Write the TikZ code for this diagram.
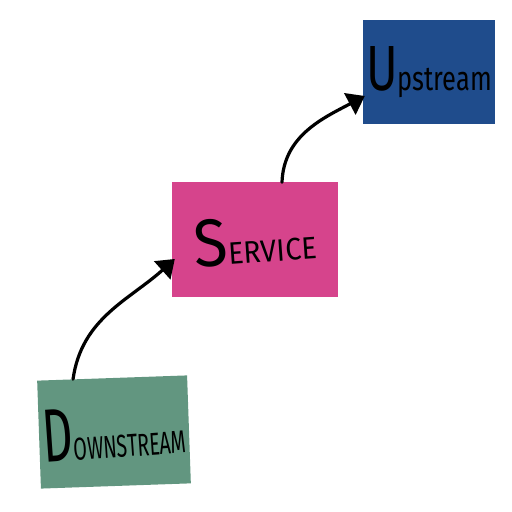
\documentclass[tikz,border=0pt]{standalone}
\usepackage{fontspec}
\usepackage{graphicx}
\setmainfont{Fira Sans}
\usetikzlibrary{arrows.meta,calc}
\definecolor{dgreen}{RGB}{98,150,128}
\definecolor{spink}{RGB}{214,68,140}
\definecolor{ublue}{RGB}{31,76,140}
\begin{document}
\begin{tikzpicture}[x=1pt,y=1pt,
  boxst/.style={draw=none, inner sep=0pt, align=center, text=black},
  conn/.style={line width=3.2pt, draw=black, -{Triangle[length=17pt,width=24pt]}, line cap=round}]
\useasboundingbox (0,0) rectangle (512,512);
\node[boxst, fill=dgreen, minimum width=150pt, minimum height=108pt, rotate=2] (down) at (114,80)
  {\rotatebox{2}{\resizebox{143pt}{52pt}{{\fontsize{74}{74}\selectfont D}{\fontsize{31}{31}\selectfont OWNSTREAM}}}};
\node[boxst, fill=spink, minimum width=166pt, minimum height=115pt] (serv) at (255,272)
  {\rotatebox{4}{\resizebox{122pt}{47pt}{{\fontsize{67}{67}\selectfont S}{\fontsize{31}{31}\selectfont ERVICE}}}};
\node[boxst, fill=ublue, minimum width=132pt, minimum height=104pt] (up) at (429,440)
  {\raisebox{-6pt}{\resizebox{126pt}{44pt}{{\fontsize{64}{64}\selectfont U}{\fontsize{34}{34}\selectfont pstream}}}};
\draw[conn] ($(down.north west)!0.24!(down.north east)$) to[out=82,in=222] ([xshift=3pt,yshift=-19pt]serv.west);
\draw[conn] ([xshift=27pt]serv.north) to[out=88,in=208] ([xshift=2pt,yshift=-24pt]up.west);
\end{tikzpicture}
\end{document}
